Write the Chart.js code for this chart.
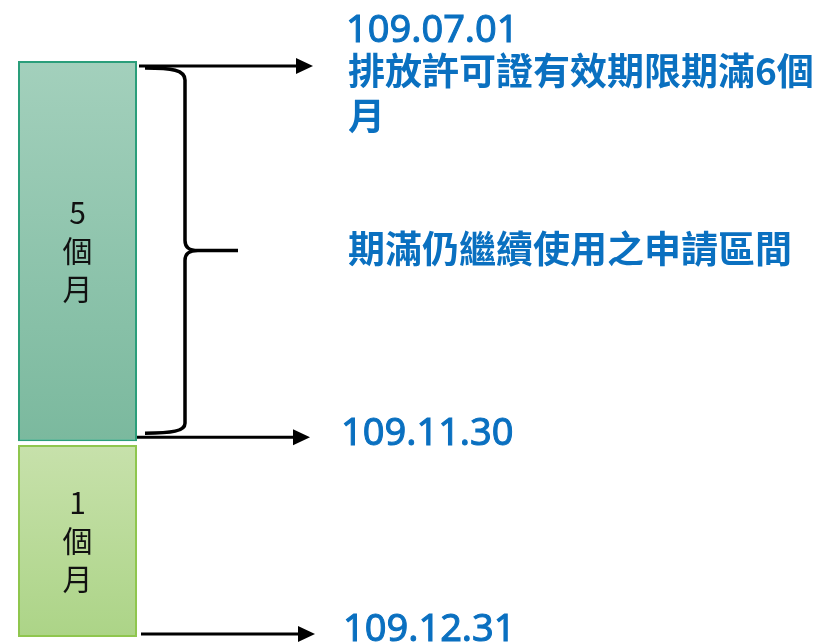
<!DOCTYPE html>
<html>
<head>
<meta charset="utf-8">
<script src="https://cdn.jsdelivr.net/npm/chart.js@4/dist/chart.umd.min.js"></script>
<style>
  body { margin: 0; background: #fff; }
  canvas { display: block; }
</style>
</head>
<body>
<canvas id="periodChart" width="827" height="642"></canvas>
<script>
// data
const categories = ['期間'];
const segmentLabels = [['5', '個', '月'], ['1', '個', '月']];
const segmentMonths = [5, 1];
const segmentSpans = [[0, 1.98], [2, 3]]; // drawn heights are not to scale in the original
const dateLabels = ['109.07.01', '109.11.30', '109.12.31'];
const noteLines = ['排放許可證有效期限期滿6個', '月'];
const braceNote = '期滿仍繼續使用之申請區間';

const fills = [['#a3d0bc', '#7bb99e'], ['#c7e1ab', '#acd487']];
const borders = ['#2a9e7a', '#8fc64e'];
const BLUE = '#0a70c0';

const drawArrow = (ctx, x1, x2, y) => {
  ctx.beginPath();
  ctx.moveTo(x1, y);
  ctx.lineTo(x2 - 14, y);
  ctx.stroke();
  ctx.beginPath();
  ctx.moveTo(x2, y);
  ctx.lineTo(x2 - 17, y - 8);
  ctx.lineTo(x2 - 17, y + 8);
  ctx.closePath();
  ctx.fill();
};

const annotations = {
  id: 'annotations',
  beforeDatasetsDraw(chart) {
    // vertical gradient per bar, from its own top to bottom
    chart.data.datasets.forEach((ds, i) => {
      const bar = chart.getDatasetMeta(i).data[0];
      if (!bar || !isFinite(bar.y) || !isFinite(bar.base)) return;
      const g = chart.ctx.createLinearGradient(0, Math.min(bar.y, bar.base), 0, Math.max(bar.y, bar.base));
      g.addColorStop(0, fills[i][0]);
      g.addColorStop(1, fills[i][1]);
      bar.options.backgroundColor = g;
    });
  },
  afterDatasetsDraw(chart) {
    const { ctx, chartArea } = chart;
    const y = chart.scales.y;
    ctx.save();

    // labels inside the bars
    ctx.fillStyle = '#111';
    ctx.font = '30px "Noto Sans CJK TC"';
    ctx.textAlign = 'center';
    ctx.textBaseline = 'middle';
    chart.data.datasets.forEach((ds, i) => {
      const bar = chart.getDatasetMeta(i).data[0];
      const cy = (bar.y + bar.base) / 2;
      segmentLabels[i].forEach((t, k) => ctx.fillText(t, bar.x, cy + (k - 1) * 38));
    });

    // arrows at the period edges
    const edges = [segmentSpans[0][0], segmentSpans[0][1], segmentSpans[1][1]];
    const arrowY = [y.getPixelForValue(edges[0]) + 5, y.getPixelForValue(edges[1]) - 4, y.getPixelForValue(edges[2]) - 3];
    const left = chartArea.right;
    ctx.strokeStyle = '#000';
    ctx.fillStyle = '#000';
    ctx.lineWidth = 3;
    drawArrow(ctx, left + 2, 313, arrowY[0]);
    drawArrow(ctx, left, 310, arrowY[1]);
    drawArrow(ctx, left + 4, 315, arrowY[2]);

    // curly brace over the 5 month part
    const yT = arrowY[0] + 2, yB = arrowY[1] - 4, ym = (yT + yB) / 2;
    const bx = 185;
    ctx.lineWidth = 3.5;
    ctx.beginPath();
    ctx.moveTo(145, yT);
    ctx.bezierCurveTo(172, yT, bx, yT + 2, bx, yT + 12);
    ctx.lineTo(bx, ym - 10);
    ctx.bezierCurveTo(bx, ym - 3, 189, ym, 198, ym);
    ctx.lineTo(238, ym);
    ctx.moveTo(198, ym);
    ctx.bezierCurveTo(189, ym, bx, ym + 3, bx, ym + 10);
    ctx.lineTo(bx, yB - 10);
    ctx.bezierCurveTo(bx, yB - 2, 172, yB, 145, yB);
    ctx.stroke();

    // texts on the right
    ctx.fillStyle = BLUE;
    ctx.strokeStyle = BLUE;
    ctx.lineWidth = 1;
    ctx.textAlign = 'left';
    ctx.textBaseline = 'alphabetic';
    ctx.font = '38px "Noto Sans", "Noto Sans CJK TC"';
    const datePos = [[346, arrowY[0] - 24], [341, arrowY[1] + 8], [343, arrowY[2] + 7]];
    dateLabels.forEach((t, k) => {
      ctx.fillText(t, datePos[k][0], datePos[k][1]);
      ctx.strokeText(t, datePos[k][0], datePos[k][1]);
    });

    ctx.font = 'bold 37px "Noto Sans CJK TC"';
    ctx.textBaseline = 'middle';
    noteLines.forEach((t, k) => ctx.fillText(t, 348, arrowY[0] + 5 + k * 45));
    ctx.fillText(braceNote, 348, ym - 2);

    ctx.restore();
  }
};

new Chart(document.getElementById('periodChart'), {
  type: 'bar',
  data: {
    labels: categories,
    datasets: segmentMonths.map((m, i) => ({
      label: m + ' 個月',
      data: [segmentSpans[i]],
      backgroundColor: fills[i][0],
      borderColor: borders[i],
      borderWidth: 2,
      borderSkipped: false,
      inflateAmount: 0,
      grouped: false,
      barPercentage: 1,
      categoryPercentage: 1
    }))
  },
  options: {
    responsive: false,
    animation: false,
    layout: { padding: { left: 18, right: 690, top: 61, bottom: 5 } },
    plugins: { legend: { display: false }, tooltip: { enabled: false } },
    scales: {
      x: { display: false },
      y: { display: false, reverse: true, min: 0, max: 3 }
    }
  },
  plugins: [annotations]
});
</script>
</body>
</html>
